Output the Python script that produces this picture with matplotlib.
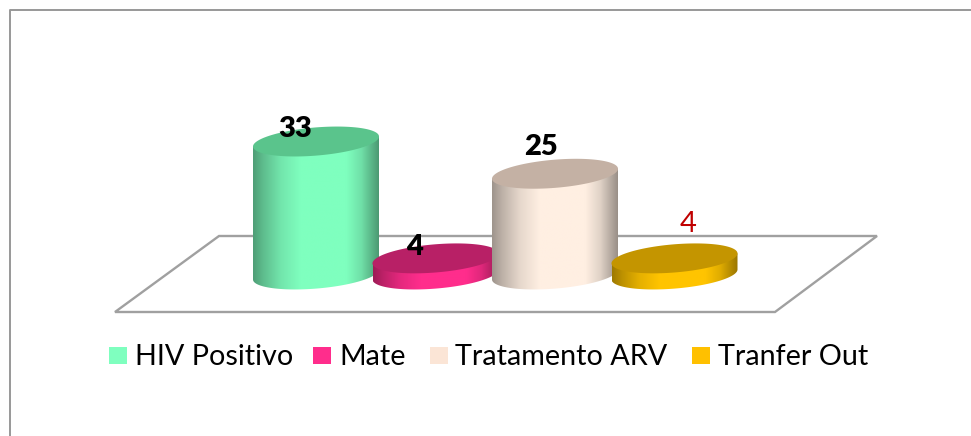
import numpy as np
import matplotlib
matplotlib.use("Agg")
import matplotlib.pyplot as plt
from matplotlib.colors import LinearSegmentedColormap, to_rgb
from matplotlib.patches import Polygon, Rectangle

categories = ["HIV Positivo", "Mate", "Tratamento ARV", "Tranfer Out"]
values = [33, 4, 25, 4]
side_colors = ["#7FFFBF", "#FF2D8C", "#FFEFE2", "#FFC400"]
legend_colors = ["#7FFFBF", "#FF2D8C", "#FBE5D6", "#FFC000"]
top_colors = ["#5AC48C", "#B82066", "#C4B1A4", "#C49500"]
label_colors = ["black", "black", "black", "#C00000"]
label_weights = ["heavy", "heavy", "heavy", "normal"]

FONT = "Lato"
W, H = 971, 436
fig = plt.figure(figsize=(W / 100, H / 100), dpi=100)
ax = fig.add_axes([0, 0, 1, 1])
ax.set_xlim(0, W)
ax.set_ylim(H, 0)
ax.axis("off")

GRAY = "#a0a0a0"
ax.plot([10, 10, 971], [436, 10, 10], color="#989898", lw=1.4, zorder=1)

floor = Polygon([(115, 312), (219, 236), (877, 236), (775, 312)], closed=True,
                fc="white", ec=GRAY, lw=1.7, zorder=2)
ax.add_patch(floor)

BASE_Y = 274.5
PX_PER_UNIT = 4.03
X0, DX = 316, 119.5
A, B, SH = 63, 14.1, 5
t = np.linspace(0, 2 * np.pi, 181)


def shade(c):
    r = np.array(to_rgb(c))
    return LinearSegmentedColormap.from_list("c", [
        (0.00, r * 0.62), (0.08, r * 0.74), (0.22, r * 0.90), (0.38, r),
        (0.74, r), (0.86, r * 0.88), (1.00, r * 0.60)])


for i, (v, sc, tc) in enumerate(zip(values, side_colors, top_colors)):
    cx = X0 + i * DX
    ex = A * np.cos(t)
    ey = -SH * np.cos(t) - B * np.sin(t)
    top = BASE_Y - v * PX_PER_UNIT
    z = 3 + i
    lower = np.linspace(np.pi, 2 * np.pi, 91)
    bx = cx + A * np.cos(lower)
    by = BASE_Y - SH * np.cos(lower) - B * np.sin(lower)
    vx = np.r_[bx, cx + A, cx - A]
    vy = np.r_[by, top - SH, top + SH]
    body = Polygon(np.c_[vx, vy], closed=True, fc="none", ec="none", zorder=z)
    ax.add_patch(body)
    grad = np.linspace(0, 1, 256)[None, :]
    im = ax.imshow(grad, cmap=shade(sc), extent=(cx - A, cx + A, BASE_Y + 30, top - 30),
                   aspect="auto", zorder=z, interpolation="bilinear")
    im.set_clip_path(body)
    ax.fill(cx + ex, top + ey, color=tc, lw=0, zorder=z + 0.5)

ax.set_xlim(0, W)
ax.set_ylim(H, 0)

label_pos = [(295, 129), (415, 247), (541, 147), (688, 224)]
for (x, y), v, c, w in zip(label_pos, values, label_colors, label_weights):
    ax.text(x, y, str(v), ha="center", va="center", color=c, fontweight=w,
            fontsize=21, family=FONT, zorder=20)

sq_x = [109, 313, 430, 692]
tx_x = [135, 339, 455, 718]
for c, sx, tx, name in zip(legend_colors, sq_x, tx_x, categories):
    ax.add_patch(Rectangle((sx, 347), 18, 17, fc=c, ec="none", zorder=5))
    ax.text(tx, 357, name, ha="left", va="center", fontsize=20.7, family=FONT,
            color="black", zorder=5)

fig.savefig("out.png", dpi=100)
